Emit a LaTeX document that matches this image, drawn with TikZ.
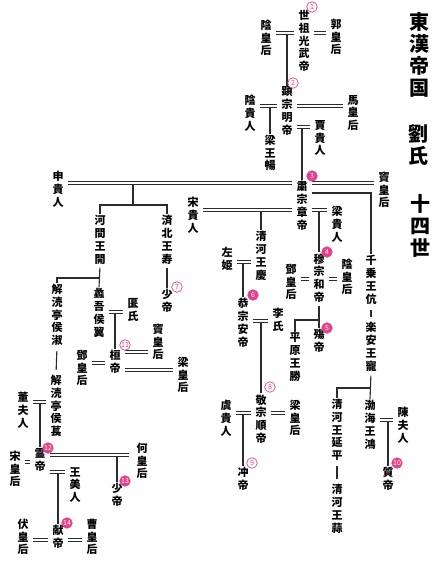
\documentclass[tikz,border=0pt]{standalone}
\usepackage{fontspec}
\setmainfont{Noto Sans CJK JP}
\definecolor{numpink}{HTML}{E4418C}
\definecolor{linegray}{HTML}{2B2B2B}

\begin{document}
\begin{tikzpicture}[x=1pt, y=-1pt,
  person/.style={inner xsep=1pt, inner ysep=1pt, align=center,
                 font=\fontsize{11}{12.8}\selectfont\bfseries},
  title/.style={inner sep=0pt, align=center, font=\fontsize{20}{22}\selectfont\bfseries},
  kin/.style={linegray, line width=1.1pt},
  wed/.style={linegray, double, double distance=2pt, line width=1pt,
              shorten <=3pt, shorten >=3pt},
  numo/.style={circle, draw=numpink, fill=white, text=numpink, inner sep=0pt,
               minimum size=10.5pt, line width=0.7pt, font=\fontsize{7}{7}\selectfont},
  numf/.style={numo, fill=numpink, text=white},
]
\useasboundingbox (0,0) rectangle (439,569);

\node[title] (t1) at (419,55) {東\\漢\\帝\\国};
\node[title] (t2) at (418,145) {劉\\氏};
\node[title] (t3) at (420,226) {十\\四\\世};

\node[person] (guangwu) at (304,41) {世\\祖\\光\\武\\帝};
\node[person] (yinhou1) at (266,38) {陰\\皇\\后};
\node[person] (guohou) at (336,37) {郭\\皇\\后};
\node[person] (mingdi) at (287,111) {顕\\宗\\明\\帝};
\node[person] (yingui) at (250,113) {陰\\貴\\人};
\node[person] (mahou) at (353,113) {馬\\皇\\后};
\node[person] (liangchang) at (270,153) {梁\\王\\暢};
\node[person] (jiagui) at (320,138) {賈\\貴\\人};
\node[person] (zhangdi) at (302,206) {粛\\宗\\章\\帝};
\node[person] (dou1) at (384,190) {竇\\皇\\后};
\node[person] (shengui) at (58,189) {申\\貴\\人};
\node[person] (songgui) at (193,215) {宋\\貴\\人};
\node[person] (lianggui) at (337,224) {梁\\貴\\人};
\node[person] (qinghe) at (261,256) {清\\河\\王\\慶};
\node[person] (qiancheng) at (371,280) {千\\乗\\王\\伉};
\node[person] (hedi) at (319,278) {穆\\宗\\和\\帝};
\node[person] (denghou1) at (291,282) {鄧\\皇\\后};
\node[person] (yinhou2) at (347,277) {陰\\皇\\后};
\node[person] (hejian) at (100,240) {河\\間\\王\\開};
\node[person] (jibei) at (167,240) {済\\北\\王\\寿};
\node[person] (zuoji) at (227,259) {左\\姫};
\node[person] (andi) at (243,323) {恭\\宗\\安\\帝};
\node[person] (lishi) at (278,320) {李\\氏};
\node[person] (shangdi) at (319,341) {殤\\帝};
\node[person] (pingyuan) at (295,357) {平\\原\\王\\勝};
\node[person] (lean) at (371,347) {楽\\安\\王\\寵};
\node[person] (shaodi1) at (167,301) {少\\帝};
\node[person] (liwu) at (99,313) {蠡\\吾\\侯\\翼};
\node[person] (yanshi) at (133,310) {匽\\氏};
\node[person] (huandi) at (115,362) {桓\\帝};
\node[person] (dou2) at (158,342) {竇\\皇\\后};
\node[person] (lianghou2) at (183,375) {梁\\皇\\后};
\node[person] (denghou2) at (82,368) {鄧\\皇\\后};
\node[person] (shu) at (57,315) {解\\涜\\亭\\侯\\淑};
\node[person] (chang) at (56,406) {解\\涜\\亭\\侯\\萇};
\node[person] (dongfu) at (23,410) {董\\夫\\人};
\node[person] (shundi) at (261,419) {敬\\宗\\順\\帝};
\node[person] (yugui) at (226,418) {虞\\貴\\人};
\node[person] (lianghou1) at (295,418) {梁\\皇\\后};
\node[person] (yanping) at (337,430) {清\\河\\王\\延\\平};
\node[person] (bohai) at (370,425) {渤\\海\\王\\鴻};
\node[person] (chenfu) at (403,425) {陳\\夫\\人};
\node[person] (chongdi) at (243,479) {冲\\帝};
\node[person] (zhidi) at (388,479) {質\\帝};
\node[person] (suan) at (337,509) {清\\河\\王\\蒜};
\node[person] (lingdi) at (40,460) {霊\\帝};
\node[person] (songhou) at (15,469) {宋\\皇\\后};
\node[person] (hehou) at (142,461) {何\\皇\\后};
\node[person] (wangmei) at (75,485) {王\\美\\人};
\node[person] (shaodi2) at (117,495) {少\\帝};
\node[person] (xiandi) at (58,537) {献\\帝};
\node[person] (fuhou) at (23,537) {伏\\皇\\后};
\node[person] (caohou) at (92,537) {曹\\皇\\后};

% junctions
\coordinate (m1) at (287,33);
\coordinate (m2) at (270,106);
\coordinate (m3) at (302,127);
\coordinate (m4) at (133,183);
\coordinate (f4) at (133,205);
\coordinate (q1) at (371,193);
\coordinate (m5) at (261,210);
\coordinate (m6) at (319,210);
\coordinate (m7) at (243,262);
\coordinate (m8) at (319,279);
\coordinate (f8) at (319,320);
\coordinate (m9) at (261,321);
\coordinate (m10) at (243,413);
\coordinate (f10) at (371,388);
\coordinate (m11) at (388,420);
\coordinate (f11) at (100,278);
\coordinate (m12) at (115,312);
\coordinate (m13) at (115,352);
\coordinate (m14) at (115,370);
\coordinate (m15) at (115,363);
\coordinate (m16) at (40,402);
\coordinate (m17) at (40,462);
\coordinate (m18) at (117,455);
\coordinate (m19) at (58,472);
\coordinate (m20) at (58,540);

\draw[kin] (m1) -- (mingdi.north);
\draw[kin] (m2) -- (liangchang.north);
\draw[kin] (m3) -- (zhangdi.north);
\draw[kin] (m4) -- (f4);
\draw[kin] (hejian.north) |- (f4) -| (jibei.north);
\draw[kin, shorten <=3pt] (zhangdi.east |- q1) -| (qiancheng.north);
\draw[kin] (m5) -- (qinghe.north);
\draw[kin] (m6) -- (hedi.north);
\draw[kin] (m7) -- (andi.north);
\draw[kin, shorten <=2pt] (hedi.south) -- (shangdi.north);
\draw[kin] (pingyuan.north) |- (f8);
\draw[kin] (m9) -- (shundi.north);
\draw[kin] (m10) -- (chongdi.north);
\draw[kin, shorten <=4pt, shorten >=4pt] (qiancheng.south) -- (lean.north);
\draw[kin, shorten <=3pt] (lean.south) -- (bohai.north);
\draw[kin] (yanping.north) |- (f10);
\draw[kin] (m11) -- (zhidi.north);
\draw[kin, shorten <=4pt, shorten >=4pt] (yanping.south) -- (suan.north);
\draw[kin, shorten <=2pt] (jibei.south) -- (shaodi1.north);
\draw[kin, shorten <=2pt] (hejian.south) -- (liwu.north);
\draw[kin] (shu.north) |- (f11);
\draw[kin] (m12) -- (huandi.north);
\draw[kin, shorten <=4pt, shorten >=4pt] (shu.south) -- (chang.north);
\draw[kin] (m16) -- (lingdi.north);
\draw[kin] (m18) -- (shaodi2.north);
\draw[kin] (m19) -- (xiandi.north);

\draw[wed] (yinhou1.east |- m1) -- (guangwu.west |- m1);
\draw[wed] (guangwu.east |- m1) -- (guohou.west |- m1);
\draw[wed] (yingui.east |- m2) -- (mingdi.west |- m2);
\draw[wed] (mingdi.east |- m2) -- (mahou.west |- m2);
\draw[wed] (mingdi.east |- m3) -- (jiagui.west |- m3);
\draw[wed] (shengui.east |- m4) -- (zhangdi.west |- m4);
\draw[wed] (zhangdi.east |- m4) -- (dou1.west |- m4);
\draw[wed] (songgui.east |- m5) -- (zhangdi.west |- m5);
\draw[wed] (zhangdi.east |- m6) -- (lianggui.west |- m6);
\draw[wed] (zuoji.east |- m7) -- (qinghe.west |- m7);
\draw[wed] (denghou1.east |- m8) -- (hedi.west |- m8);
\draw[wed] (hedi.east |- m8) -- (yinhou2.west |- m8);
\draw[wed] (andi.east |- m9) -- (lishi.west |- m9);
\draw[wed] (yugui.east |- m10) -- (shundi.west |- m10);
\draw[wed] (shundi.east |- m10) -- (lianghou1.west |- m10);
\draw[wed] (bohai.east |- m11) -- (chenfu.west |- m11);
\draw[wed] (liwu.east |- m12) -- (yanshi.west |- m12);
\draw[wed] (huandi.east |- m13) -- (dou2.west |- m13);
\draw[wed] (huandi.east |- m14) -- (lianghou2.west |- m14);
\draw[wed] (denghou2.east |- m15) -- (huandi.west |- m15);
\draw[wed] (dongfu.east |- m16) -- (chang.west |- m16);
\draw[wed] (songhou.east |- m17) -- (lingdi.west |- m17);
\draw[wed, shorten >=6pt] (lingdi.east |- m18) -- (hehou.west |- m18);
\draw[wed] (lingdi.east |- m19) -- (wangmei.west |- m19);
\draw[wed] (fuhou.east |- m20) -- (xiandi.west |- m20);
\draw[wed] (xiandi.east |- m20) -- (caohou.west |- m20);

\node[numo] (n1) at (312,7) {1};
\node[numo] (n2) at (293,83) {2};
\node[numf] (n3) at (312,176) {3};
\node[numf] (n4) at (327,252) {4};
\node[numf] (n5) at (327,328) {5};
\node[numf] (n6) at (253,295) {6};
\node[numo] (n7) at (177,287) {7};
\node[numo] (n8) at (270,387) {8};
\node[numo] (n9) at (252,463) {9};
\node[numf] (n10) at (397,463) {10};
\node[numo] (n11) at (125,345) {11};
\node[numf] (n12) at (48,448) {12};
\node[numf] (n13) at (125,481) {13};
\node[numf] (n14) at (67,523) {14};

\end{tikzpicture}
\end{document}
